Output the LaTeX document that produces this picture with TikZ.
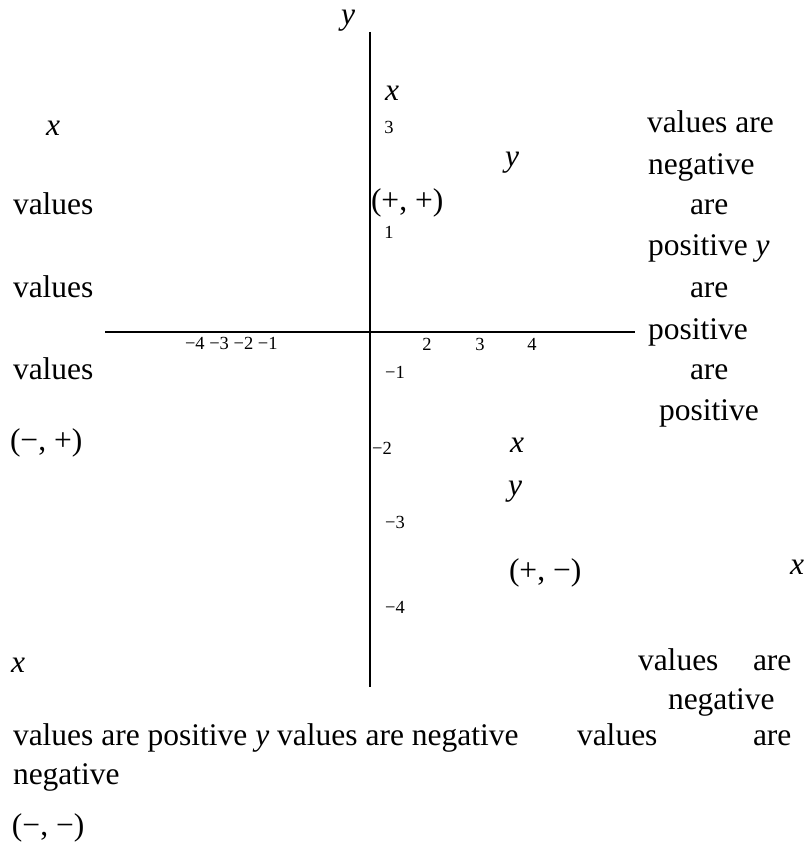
\documentclass[tikz,border=0pt]{standalone}
\usepackage{fontspec}
\setmainfont{Liberation Serif}
\begin{document}
\begin{tikzpicture}[x=1pt,y=-1pt,
  lbl/.style={inner sep=0pt,outer sep=0pt,font=\fontsize{31.5}{38}\selectfont},
  var/.style={lbl,font=\fontsize{31.5}{38}\selectfont\itshape},
  tick/.style={inner sep=0pt,outer sep=0pt,font=\fontsize{18.5}{22}\selectfont},
  axis/.style={line width=2.8pt}]
\useasboundingbox (0,0) rectangle (807,848);
% axes
\coordinate (vtop) at (370,32);
\coordinate (vbot) at (370,687);
\coordinate (hl) at (105,332);
\coordinate (hr) at (635,332);
\draw[axis] (vtop) -- (vbot);
\draw[axis] (hl) -- (hr);
% axis letters and small labels
\node[var] (ytop) at (348,21) {y};
\node[var] (xq1) at (392,93) {x};
\node[tick] (t3) at (389,127) {3};
\node[lbl,anchor=west] (pp) at (371,203) {(+, +)};
\node[tick] (t1) at (389,232) {1};
\node[var] (yq1) at (512,163) {y};
\node[tick,anchor=west] (tneg) at (185,343) {−4 −3 −2 −1};
\node[tick] (tx2) at (427,344) {2};
\node[tick] (tx3) at (480,344) {3};
\node[tick] (tx4) at (532,344) {4};
\node[tick] (ty1) at (395,372) {−1};
\node[tick] (ty2) at (382,448) {−2};
\node[tick] (ty3) at (395,522) {−3};
\node[tick] (ty4) at (395,607) {−4};
% right column
\node[lbl,anchor=base west] (r1) at (647,132) {values are};
\node[lbl,anchor=base west] (r2) at (648,174) {negative};
\node[lbl,anchor=base west] (r3) at (690,214) {are};
\node[lbl,anchor=base west] (r4) at (648,255) {positive \textit{y}};
\node[lbl,anchor=base west] (r5) at (690,297) {are};
\node[lbl,anchor=base west] (r6) at (648,339) {positive};
\node[lbl,anchor=base west] (r7) at (690,379) {are};
\node[lbl,anchor=base west] (r8) at (659,420) {positive};
% left column
\node[var] (xl) at (53,128) {x};
\node[lbl,anchor=base west] (l1) at (13,214) {values};
\node[lbl,anchor=base west] (l2) at (13,297) {values};
\node[lbl,anchor=base west] (l3) at (13,379) {values};
\node[lbl,anchor=west] (mp) at (10,443) {(−, +)};
% fourth quadrant
\node[var] (xq4) at (517,445) {x};
\node[var] (yq4) at (515,492) {y};
\node[lbl,anchor=west] (pm) at (509,573) {(+, −)};
\node[var] (xfar) at (797,567) {x};
% bottom
\node[var] (xb) at (18,665) {x};
\node[lbl,anchor=base west] (b1a) at (638,670) {values};
\node[lbl,anchor=base west] (b1b) at (753,670) {are};
\node[lbl,anchor=base west] (b2) at (668,709) {negative};
\node[lbl,anchor=base west] (b3) at (13,745) {values are positive \textit{y} values are negative};
\node[lbl,anchor=base west] (b3a) at (577,745) {values};
\node[lbl,anchor=base west] (b3b) at (753,745) {are};
\node[lbl,anchor=base west] (b4) at (13,784) {negative};
\node[lbl,anchor=west] (mm) at (12,828) {(−, −)};
\end{tikzpicture}
\end{document}
